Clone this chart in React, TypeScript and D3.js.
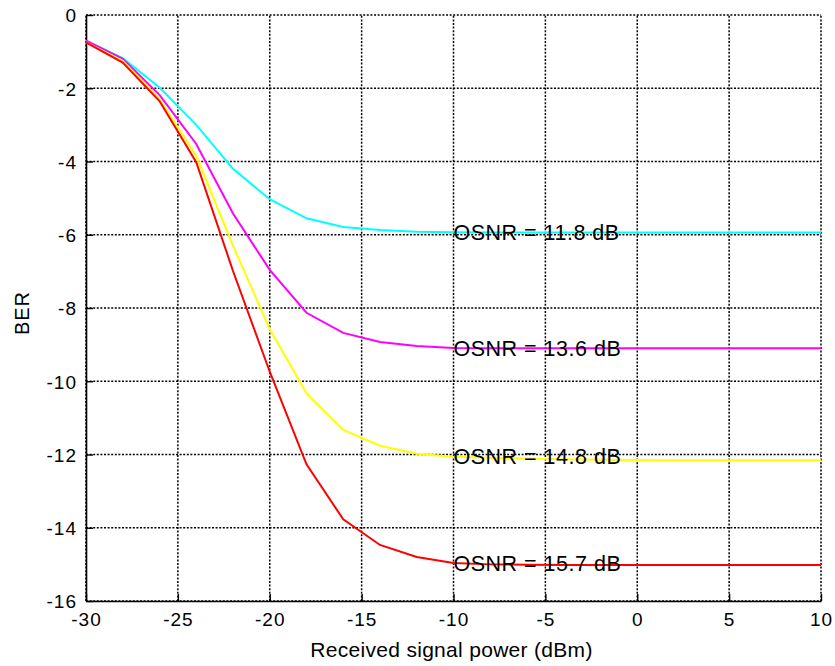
import React, { useEffect, useRef } from "react";
import * as d3 from "d3";

// Received optical power (dBm) sampled every 2 dB
const power = [-30, -28, -26, -24, -22, -20, -18, -16, -14, -12, -10, -8, -6, -4, -2, 0, 2, 4, 6, 8, 10];

// log10(BER) for each OSNR
const ber118 = [-0.7, -1.18, -1.98, -3.0, -4.2, -5.03, -5.55, -5.79, -5.87, -5.92, -5.93, -5.94, -5.94, -5.94, -5.94, -5.94, -5.94, -5.94, -5.94, -5.94, -5.94];
const ber136 = [-0.7, -1.2, -2.18, -3.52, -5.42, -6.96, -8.13, -8.68, -8.93, -9.04, -9.09, -9.1, -9.1, -9.1, -9.1, -9.1, -9.1, -9.1, -9.1, -9.1, -9.1];
const ber148 = [-0.75, -1.25, -2.3, -3.85, -6.3, -8.58, -10.33, -11.33, -11.76, -11.98, -12.06, -12.09, -12.11, -12.13, -12.14, -12.15, -12.16, -12.16, -12.16, -12.16, -12.16];
const ber157 = [-0.75, -1.3, -2.35, -4.02, -6.99, -9.74, -12.27, -13.77, -14.47, -14.8, -14.96, -15.0, -15.01, -15.02, -15.02, -15.02, -15.02, -15.02, -15.02, -15.02, -15.02];

const seriesNames = ["OSNR = 11.8 dB", "OSNR = 13.6 dB", "OSNR = 14.8 dB", "OSNR = 15.7 dB"];
const seriesColors = ["#00ffff", "#ff00ff", "#ffff00", "#ff0000"];
const seriesValues = [ber118, ber136, ber148, ber157];

const xTicks = [-30, -25, -20, -15, -10, -5, 0, 5, 10];
const yTicks = [0, -2, -4, -6, -8, -10, -12, -14, -16];
const labelAt = -10;

const W = 835;
const H = 666;
const FONT = "'Liberation Sans', Arial, Helvetica, sans-serif";

export default function App() {
  const ref = useRef<SVGSVGElement | null>(null);

  useEffect(() => {
    const svg = d3.select(ref.current);
    svg.selectAll("*").remove();

    const x = d3.scaleLinear().domain([-30, 10]).range([86, 821]);
    const y = d3.scaleLinear().domain([-16, 0]).range([601, 15]);

    const grid = svg.append("g");
    // dotted grid
    grid
      .selectAll("line.gx")
      .data(xTicks)
      .join("line")
      .attr("x1", (d) => x(d))
      .attr("x2", (d) => x(d))
      .attr("y1", y(-16))
      .attr("y2", y(0))
      .attr("stroke", "#000")
      .attr("stroke-width", 1.5)
      .attr("stroke-dasharray", "2,1.6");
    grid
      .selectAll("line.gy")
      .data(yTicks)
      .join("line")
      .attr("x1", x(-30))
      .attr("x2", x(10))
      .attr("y1", (d) => y(d))
      .attr("y2", (d) => y(d))
      .attr("stroke", "#000")
      .attr("stroke-width", 1.5)
      .attr("stroke-dasharray", "2,1.6");

    // axes
    const xAxis = d3
      .axisBottom(x)
      .tickValues(xTicks)
      .tickSizeInner(-7)
      .tickSizeOuter(0)
      .tickPadding(12)
      .tickFormat((d) => String(d));
    const yAxis = d3
      .axisLeft(y)
      .tickValues(yTicks)
      .tickSizeInner(-7)
      .tickSizeOuter(0)
      .tickPadding(9)
      .tickFormat((d) => String(d));

    const gx = svg.append("g").attr("transform", `translate(0,${y(-16)})`).call(xAxis);
    const gy = svg.append("g").attr("transform", `translate(${x(-30)},0)`).call(yAxis);
    [gx, gy].forEach((g) => {
      g.select(".domain").attr("stroke", "#000").attr("stroke-width", 1.6);
      g.selectAll(".tick line").attr("stroke", "#000").attr("stroke-width", 1.4);
      g.selectAll(".tick text")
        .attr("fill", "#000")
        .style("font-family", FONT)
        .style("font-size", "19px")
        .style("letter-spacing", "1px");
    });
    gy.selectAll(".tick text").attr("dy", "0.36em");

    // curves
    const line = d3
      .line<number>()
      .x((_, i) => x(power[i]))
      .y((d) => y(d));
    svg
      .append("g")
      .selectAll("path")
      .data(seriesValues)
      .join("path")
      .attr("d", (d) => line(d))
      .attr("fill", "none")
      .attr("stroke", (_, i) => seriesColors[i])
      .attr("stroke-width", 2);

    // curve annotations
    const li = power.indexOf(labelAt);
    svg
      .append("g")
      .selectAll("text")
      .data(seriesValues)
      .join("text")
      .attr("x", x(labelAt))
      .attr("y", (d) => y(d[li]))
      .attr("dy", "0.36em")
      .attr("fill", "#000")
      .style("font-family", FONT)
      .style("font-size", "21.5px")
      .style("letter-spacing", "0.5px")
      .text((_, i) => seriesNames[i]);

    // axis titles
    svg
      .append("text")
      .attr("x", (x(-30) + x(10)) / 2 - 2)
      .attr("y", 657)
      .attr("text-anchor", "middle")
      .attr("fill", "#000")
      .style("font-family", FONT)
      .style("font-size", "21px")
      .style("letter-spacing", "0.3px")
      .text("Received signal power (dBm)");
    svg
      .append("text")
      .attr("transform", `translate(28.5,313) rotate(-90)`)
      .attr("text-anchor", "middle")
      .attr("fill", "#000")
      .style("font-family", FONT)
      .style("font-size", "20px")
      .style("letter-spacing", "1px")
      .text("BER");
  }, []);

  return (
    <svg
      ref={ref}
      width={W}
      height={H}
      style={{ position: "absolute", left: 0, top: 0, background: "#fff" }}
    />
  );
}
